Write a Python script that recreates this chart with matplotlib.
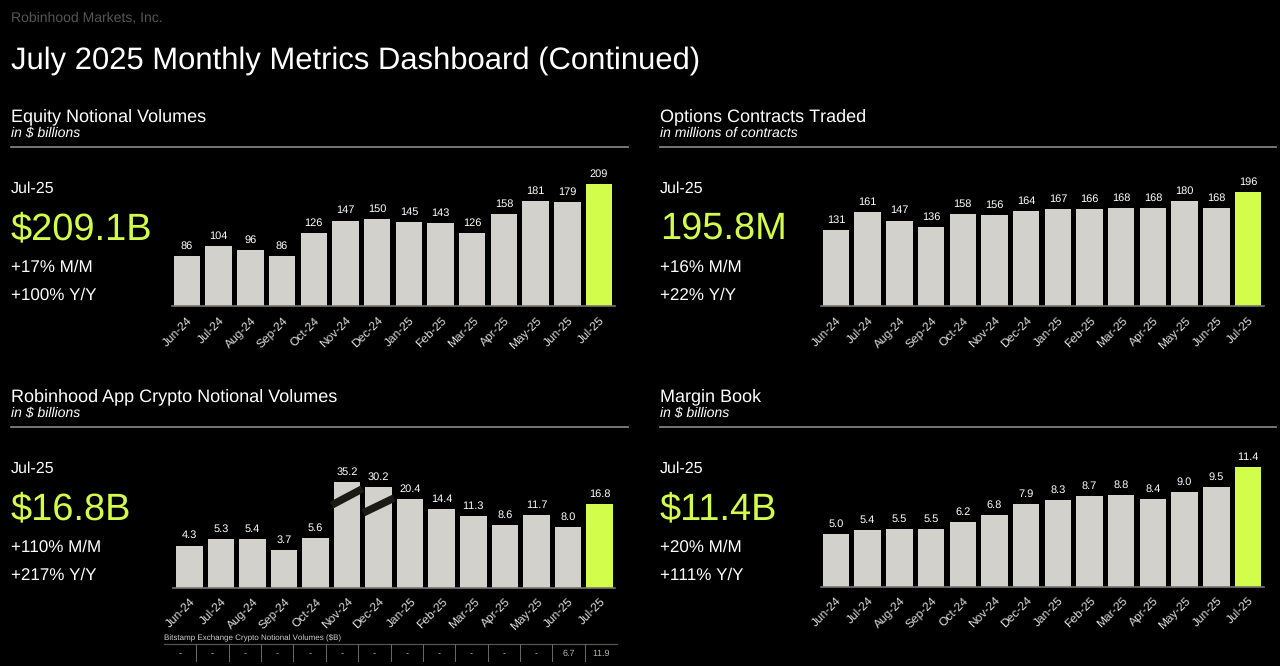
import matplotlib
matplotlib.use("Agg")
import matplotlib.pyplot as plt

W, H = 1280, 666
BAR = '#d3d1cb'
GREEN = '#d2fd4a'
plt.rcParams['font.family'] = ['Liberation Sans', 'DejaVu Sans']
plt.rcParams['text.hinting'] = 'no_hinting'
plt.rcParams['text.hinting_factor'] = 1

months = ['Jun-24', 'Jul-24', 'Aug-24', 'Sep-24', 'Oct-24', 'Nov-24', 'Dec-24', 'Jan-25',
          'Feb-25', 'Mar-25', 'Apr-25', 'May-25', 'Jun-25', 'Jul-25']

equity = [86, 104, 96, 86, 126, 147, 150, 145, 143, 126, 158, 181, 179, 209]
options = [131, 161, 147, 136, 158, 156, 164, 167, 166, 168, 168, 180, 168, 196]
crypto = [4.3, 5.3, 5.4, 3.7, 5.6, 35.2, 30.2, 20.4, 14.4, 11.3, 8.6, 11.7, 8.0, 16.8]
margin = [5.0, 5.4, 5.5, 5.5, 6.2, 6.8, 7.9, 8.3, 8.7, 8.8, 8.4, 9.0, 9.5, 11.4]
bitstamp = ['-', '-', '-', '-', '-', '-', '-', '-', '-', '-', '-', '-', '6.7', '11.9']

fig = plt.figure(figsize=(W / 100, H / 100), dpi=100, facecolor='black')


def txt(x, y, s, size, color='white', **kw):
    # x, y in image pixels, y measured to the text baseline
    fig.text(x / W, 1 - y / H, s, fontsize=size, color=color, va='baseline', **kw)


def pixel_axes(left, right, top, bottom):
    ax = fig.add_axes([left / W, 1 - bottom / H, (right - left) / W, (bottom - top) / H])
    ax.set_facecolor('none')
    return ax


def bar_panel(left, right, first, last, top, base, values, ymax, fmt, log_floor=None):
    # first, last: pixel centres of the outer bars
    ax = pixel_axes(left, right, top, base)
    x = list(range(len(values)))
    step = (last - first) / (len(values) - 1)
    colors = [BAR] * (len(values) - 1) + [GREEN]
    ax.bar(x, values, width=26.5 / step, color=colors)
    if log_floor:
        ax.set_yscale('log')
        ax.set_ylim(log_floor, ymax)
    else:
        ax.set_ylim(0, ymax)
    ax.set_xlim((left - first) / step, (right - first) / step)
    for i, v in enumerate(values):
        ax.annotate(fmt.format(v), (i, v), xytext=(0, 3.5), textcoords='offset points',
                    ha='center', va='bottom', color='white', fontsize=8)
    for s in ['top', 'left', 'right']:
        ax.spines[s].set_visible(False)
    ax.spines['bottom'].set_color('#77766f')
    ax.spines['bottom'].set_linewidth(1.2)
    ax.yaxis.set_visible(False)
    ax.minorticks_off()
    ax.set_xticks(x)
    ax.set_xticklabels(months, rotation=45, ha='right', rotation_mode='anchor',
                       color='#dcdcdc', fontsize=8.5)
    ax.tick_params(axis='x', length=0, pad=6)
    return ax


def header(x, y, title, sub, rule_end):
    txt(x, y, title, 13.2)
    txt(x, y + 16, sub, 9.8, style='italic')
    fig.add_artist(plt.Line2D([x / W, rule_end / W], [1 - (y + 25.5) / H] * 2,
                              color='#8b8a85', lw=1.2))


def stats(x, y, big, mom, yoy):
    txt(x, y, 'Jul-25', 11.5)
    txt(x, y + 46, big, 27, color=GREEN)
    txt(x, y + 79, mom, 11.9)
    txt(x, y + 107, yoy, 11.9)


txt(11, 21, 'Robinhood Markets, Inc.', 9.8, color='#565656')
txt(11, 69, 'July 2025 Monthly Metrics Dashboard (Continued)', 22.6)

header(11, 121, 'Equity Notional Volumes', 'in $ billions', 628)
header(660, 121, 'Options Contracts Traded', 'in millions of contracts', 1276)
header(11, 401, 'Robinhood App Crypto Notional Volumes', 'in $ billions', 628)
header(660, 401, 'Margin Book', 'in $ billions', 1276)

stats(11, 193, '$209.1B', '+17% M/M', '+100% Y/Y')
stats(660, 193, '195.8M', '+16% M/M', '+22% Y/Y')
stats(11, 473, '$16.8B', '+110% M/M', '+217% Y/Y')
stats(660, 473, '$11.4B', '+20% M/M', '+111% Y/Y')

bar_panel(172, 615, 187, 599, 160, 306.5, equity, 146.5 / 0.585, '{:.0f}')
bar_panel(821, 1264, 836, 1248, 160, 306.5, options, 146.5 / 0.585, '{:.0f}')
ax_c = bar_panel(173, 615, 189.3, 599.5, 450, 587.5, crypto,
                 1.066 * 2.718 ** (137.5 / 30.1), '{:.1f}', log_floor=1.066)
bar_panel(821, 1264, 836, 1248, 440, 586.5, margin, 146.5 / 10.45, '{:.1f}')

# axis break stripes on the two tallest crypto bars
for i, lo, hi in [(5, 0.467, 0.806), (6, 0.42, 0.69)]:
    ax_c.plot([i - 0.49, i + 0.49], [crypto[i] * lo, crypto[i] * hi], color='#1b1b14',
              lw=5.4, solid_capstyle='butt', zorder=5)

# Bitstamp strip under the crypto chart
txt(164, 640, 'Bitstamp Exchange Crypto Notional Volumes ($B)', 5.7, color='#cfcfcf')
ax_t = pixel_axes(164, 617, 644, 662)
ax_t.set_xlim(0, len(bitstamp))
ax_t.set_ylim(0, 1)
ax_t.axis('off')
ax_t.axhline(1, color='#55554f', lw=0.9, clip_on=False)
for i, s in enumerate(bitstamp):
    ax_t.text(i + 0.5, 0.45, s, ha='center', va='center', color='#b5b5b0', fontsize=6.2)
    if i:
        ax_t.plot([i, i], [0, 1], color='#6b6b65', lw=0.7)

fig.savefig('out.png', dpi=100, facecolor='black')
